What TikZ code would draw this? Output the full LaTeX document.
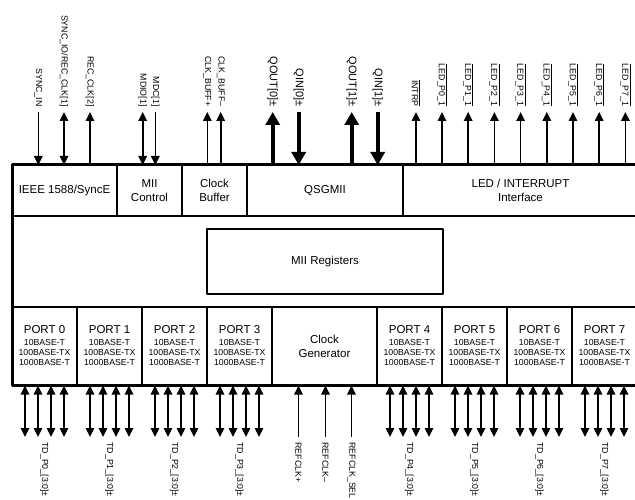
\documentclass[tikz,border=0pt]{standalone}
\usepackage{fontspec}
\setmainfont{Liberation Sans}
\usetikzlibrary{arrows.meta}
\newcommand{\olbl}[1]{$\overline{\mbox{#1}}$}
\begin{document}
\begin{tikzpicture}[x=1pt,y=-1pt,line join=round,
	>={Triangle[length=9pt,width=8.5pt]},
	cell/.style={draw,line width=1.2pt,inner sep=0pt,align=center,font=\fontsize{11.5}{14}\selectfont},
	pin/.style={rotate=-90,inner sep=0pt,outer xsep=5.5pt,font=\fontsize{8.8}{10}\selectfont},
	qpin/.style={pin,font=\fontsize{11}{13}\selectfont},
	sig/.style={line width=1.6pt},
	qsig/.style={line width=4pt,>={Triangle[length=13pt,width=14pt]}}]
	\useasboundingbox (0,0) rectangle (635,500);
	\fill[white] (0,0) rectangle (635,500);
	\clip (0,0) rectangle (635,500);
	\node[minimum width=626,minimum height=220,anchor=north west,inner sep=0pt,outer sep=0pt] (chip) at (12,165) {};
	% function blocks
	\node[cell,minimum width=105,minimum height=51] (ieee) at (64.5,190.5) {IEEE 1588/SyncE};
	\node[cell,minimum width=65,minimum height=51] (miictl) at (149.5,190.5) {MII\\Control};
	\node[cell,minimum width=65,minimum height=51] (clkbuf) at (214.5,190.5) {Clock\\Buffer};
	\node[cell,minimum width=156,minimum height=51] (qsgmii) at (325,190.5) {QSGMII};
	\node[cell,minimum width=235,minimum height=51] (led) at (520.5,190.5) {LED / INTERRUPT\\Interface};
	\node[cell,minimum width=236,minimum height=65] (miireg) at (325,261.5) {MII Registers};
	\node[cell,minimum width=105,minimum height=78] (clkgen) at (324.5,346) {Clock\\Generator};
	\foreach \i/\x in {0/44.5,1/109.5,2/174.5,3/239.5,4/409.5,5/474.5,6/539.5,7/604.5}{
		\node[cell,minimum width=65,minimum height=78] (port\i) at (\x,346) {};
		\node[font=\fontsize{11.5}{14}\selectfont] at ([yshift=16]port\i.center) {PORT \i};
		\node[align=center,font=\fontsize{8.7}{10}\selectfont] at ([yshift=-7]port\i.center) {10BASE-T\\100BASE-TX\\1000BASE-T};
		\node[pin,anchor=west] (td\i) at (\x,437) {TD\_P\i\_[3:0]±};
		\foreach \d in {-19.5,-6.5,6.5,19.5}
		\draw[sig,<->] ([xshift=\d]td\i.west) -- ([xshift=\d]td\i.west |- port\i.south);
	}
	\draw[line width=3pt] (chip.north east) -- (chip.north west) -- (chip.south west) -- (chip.south east);
	% top pins
	\foreach \x/\n/\t in {38.3/syncin/SYNC\_IN,155.3/mdc/MDC[1]}{
		\node[pin,anchor=east] (\n) at (\x,112) {\t};
		\draw[sig,->] (\n.east) -- (\n.east |- chip.north);
	}
	\foreach \x/\n/\t in {64/syncio/{SYNC\_IO/REC\_CLK[1]},142.7/mdio/MDIO[1]}{
		\node[pin,anchor=east] (\n) at (\x,112) {\t};
		\draw[sig,<->] (\n.east) -- (\n.east |- chip.north);
	}
	\foreach \x/\n/\t in {90/recclk/REC\_CLK[2],207.3/bufp/CLK\_BUFF+,220.7/bufn/CLK\_BUFF–,416/intrp/\olbl{INTRP}}{
		\node[pin,anchor=east] (\n) at (\x,112) {\t};
		\draw[sig,<-] (\n.east) -- (\n.east |- chip.north);
	}
	\foreach \k in {0,...,7}{
		\node[pin,anchor=east] (led\k) at (442+26.2*\k,112) {\olbl{LED\_P\k\_1}};
		\draw[sig,<-] (led\k.east) -- (led\k.east |- chip.north);
	}
	\foreach \x/\q in {272.7/0,351.7/1}{
		\node[qpin,anchor=east] (qout\q) at (\x,112) {QOUT[\q]±};
		\node[qpin,anchor=east] (qin\q) at (\x+26,112) {QIN[\q]±};
		\draw[qsig,<-] (qout\q.east) -- (qout\q.east |- chip.north);
		\draw[qsig,->] (qin\q.east) -- (qin\q.east |- chip.north);
	}
	% reference clock inputs
	\foreach \x/\n/\t in {298.5/refp/REFCLK+,325.5/refn/REFCLK–,351.5/refsel/REFCLK\_SEL}{
		\node[pin,anchor=west] (\n) at (\x,437) {\t};
		\draw[sig,->] (\n.west) -- (\n.west |- clkgen.south);
	}
\end{tikzpicture}
\end{document}
